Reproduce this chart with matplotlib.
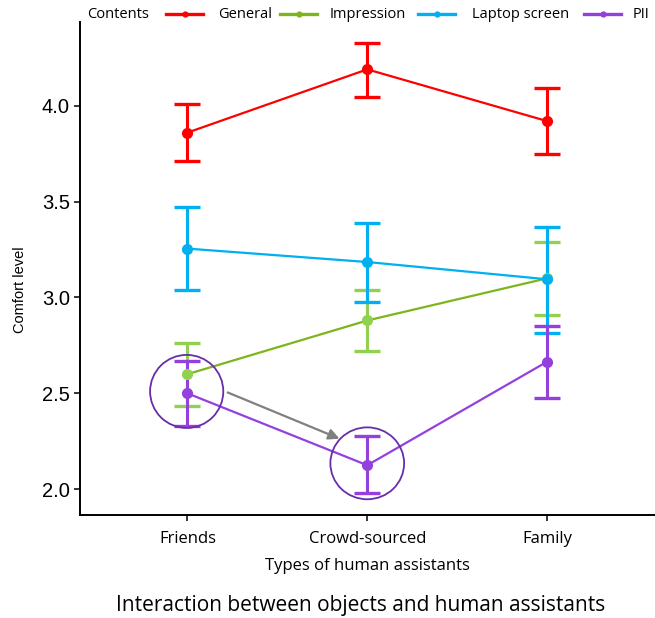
import matplotlib.pyplot as plt
from matplotlib.lines import Line2D
from matplotlib.patches import Ellipse, FancyArrowPatch

# categories and values
assistants = ['Friends', 'Crowd-sourced', 'Family']
contents = ['General', 'Impression', 'Laptop screen', 'PII']

general_mean = [3.86, 4.19, 3.92]
general_low = [3.71, 4.045, 3.75]
general_high = [4.01, 4.325, 4.095]

impression_mean = [2.60, 2.88, 3.10]
impression_low = [2.435, 2.72, 2.91]
impression_high = [2.765, 3.04, 3.29]

laptop_mean = [3.255, 3.185, 3.095]
laptop_low = [3.04, 2.975, 2.815]
laptop_high = [3.47, 3.39, 3.37]

pii_mean = [2.50, 2.125, 2.665]
pii_low = [2.33, 1.98, 2.475]
pii_high = [2.67, 2.275, 2.85]

series = [
    (general_mean, general_low, general_high, '#FF0000', '#FF0000'),
    (impression_mean, impression_low, impression_high, '#7DB51C', '#92D050'),
    (laptop_mean, laptop_low, laptop_high, '#00B0F0', '#00B0F0'),
    (pii_mean, pii_low, pii_high, '#9440DD', '#9440DD'),
]

W, H = 655, 618
fig = plt.figure(figsize=(W / 100, H / 100), dpi=100)
ax = fig.add_axes([79.5 / W, 1 - 514.5 / H, 1 - 79.5 / W, (514.5 - 22) / H])

x = [1, 2, 3]
for m, lo, hi, lc, ec in series:
    err = [[a - b for a, b in zip(m, lo)], [b - a for a, b in zip(m, hi)]]
    ax.errorbar(x, m, yerr=err, fmt='none', ecolor=ec, elinewidth=2.2,
                capsize=9.7, capthick=2.4, zorder=2)
    ax.plot(x, m, color=lc, lw=1.6, zorder=3)
    ax.plot(x, m, 'o', color=ec, ms=7, zorder=4)

# highlight circles and arrow
ax.add_patch(Ellipse((0.996, 2.51), 0.407, 0.381, fill=False,
                     ec='#6A2DA8', lw=1.3, zorder=5))
ax.add_patch(Ellipse((2.0, 2.135), 0.41, 0.375, fill=False,
                     ec='#6A2DA8', lw=1.3, zorder=5))
ax.add_patch(FancyArrowPatch((1.21, 2.51), (1.86, 2.258), arrowstyle='-|>',
                             mutation_scale=16, color='#808080', lw=1.6, zorder=5))

ax.set_xlim(0.4, 3.6)
ax.set_ylim(1.868, 4.437)
ax.set_xticks(x)
ax.set_xticklabels(assistants, fontfamily='Open Sans', fontsize=12)
ax.set_yticks([2.0, 2.5, 3.0, 3.5, 4.0])
ax.set_yticklabels(['2.0', '2.5', '3.0', '3.5', '4.0'],
                   fontfamily='Liberation Sans', fontsize=14.5)
ax.tick_params(axis='x', length=4, width=1.1, color='black', pad=8)
ax.tick_params(axis='y', length=4, width=1.1, color='black', pad=3)
for s in ['top', 'right']:
    ax.spines[s].set_visible(False)
for s in ['left', 'bottom']:
    ax.spines[s].set_linewidth(1.4)
ax.set_xlabel('Types of human assistants', fontfamily='Open Sans',
              fontsize=12, labelpad=8)

fig.text(20 / W, 1 - 290 / H, 'Comfort level', rotation=90, ha='center',
         va='center', fontfamily='Liberation Sans', fontsize=10.5)

fig.text(361 / W, 1 - 611 / H, 'Interaction between objects and human assistants',
         ha='center', va='baseline', fontfamily='Open Sans', fontsize=15)

# legend drawn by hand to follow the reference spacing
leg_y = 1 - 14 / H
fig.text(87 / W, leg_y, 'Contents', ha='left', va='center',
         fontfamily='Open Sans', fontsize=10.5)
handle_x = [166, 280, 418, 584]
text_x = [218, 330, 472, 633]
for name, (m, lo, hi, lc, ec), hx, tx in zip(contents, series, handle_x, text_x):
    fig.add_artist(Line2D([hx / W, (hx + 37) / W], [leg_y, leg_y], color=lc,
                          lw=2.4, transform=fig.transFigure))
    fig.add_artist(Line2D([(hx + 18.5) / W], [leg_y], color=lc, marker='o', ms=3.5,
                          transform=fig.transFigure))
    fig.text(tx / W, leg_y, name, ha='left', va='center',
             fontfamily='Open Sans', fontsize=10.5)

fig.savefig('out.png', dpi=100)
